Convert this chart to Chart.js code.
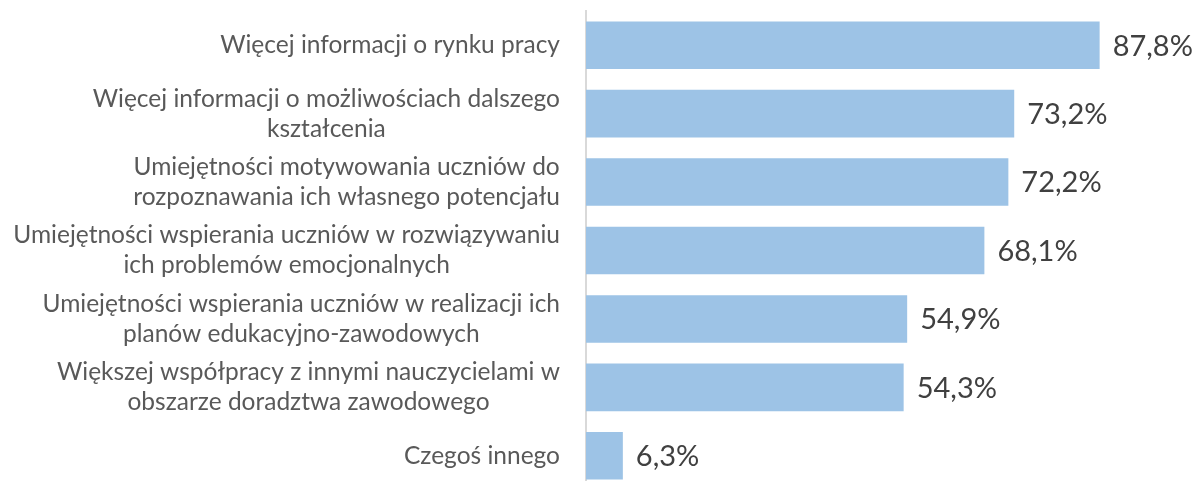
<!DOCTYPE html>
<html>
<head>
<meta charset="utf-8">
<script src="https://cdn.jsdelivr.net/npm/chart.js@4"></script>
<style>
  html, body { margin: 0; padding: 0; background: #fff; overflow: hidden; }
  .chart-container { position: relative; width: 1193px; height: 490px; }
</style>
</head>
<body>
<div class="chart-container">
  <canvas id="needsChart"></canvas>
</div>
<script>
const categories = [
  ["Więcej informacji o rynku pracy"],
  ["Więcej informacji o możliwościach dalszego", "kształcenia"],
  ["Umiejętności motywowania uczniów do", "rozpoznawania ich własnego potencjału"],
  ["Umiejętności wspierania uczniów w rozwiązywaniu", "ich problemów emocjonalnych"],
  ["Umiejętności wspierania uczniów w realizacji ich", "planów edukacyjno-zawodowych"],
  ["Większej współpracy z innymi nauczycielami w", "obszarze doradztwa zawodowego"],
  ["Czegoś innego"],
];
const shares = [87.8, 73.2, 72.2, 68.1, 54.9, 54.3, 6.3];
const axisRange = [0, 100];

const labelFont = "24.5px Lato";
const valueFont = "29px Lato";

// category labels: block right-aligned to the axis, lines centred inside the block
const categoryLabels = {
  id: "categoryLabels",
  afterDraw(chart) {
    const ctx = chart.ctx;
    const yScale = chart.scales.y;
    const right = chart.chartArea.left - 26;
    ctx.save();
    ctx.font = labelFont;
    ctx.fillStyle = "#595959";
    ctx.textAlign = "center";
    ctx.textBaseline = "middle";
    categories.forEach(function (lines, i) {
      const y = yScale.getPixelForTick(i);
      let maxW = 0;
      lines.forEach(function (l) {
        maxW = Math.max(maxW, ctx.measureText(l).width);
      });
      const cx = right - maxW / 2;
      lines.forEach(function (l, j) {
        ctx.fillText(l, cx, y + (j - (lines.length - 1) / 2) * 30);
      });
    });
    ctx.restore();
  },
};

// value labels after the bar ends
const valueLabels = {
  id: "valueLabels",
  afterDatasetsDraw(chart) {
    const ctx = chart.ctx;
    const meta = chart.getDatasetMeta(0);
    ctx.save();
    ctx.font = valueFont;
    ctx.fillStyle = "#404040";
    ctx.textAlign = "left";
    ctx.textBaseline = "middle";
    meta.data.forEach(function (bar, i) {
      const txt = shares[i].toFixed(1).replace(".", ",") + "%";
      ctx.fillText(txt, bar.x + 13, bar.y + 1);
    });
    ctx.restore();
  },
};

document.addEventListener("DOMContentLoaded", function () {
  const ctx = document.getElementById("needsChart").getContext("2d");
  new Chart(ctx, {
    type: "bar",
    data: {
      labels: categories,
      datasets: [
        {
          data: shares,
          backgroundColor: "#9DC3E6",
          borderWidth: 0,
          barPercentage: 0.695,
          categoryPercentage: 1,
        },
      ],
    },
    options: {
      indexAxis: "y",
      responsive: true,
      maintainAspectRatio: false,
      animation: false,
      layout: {
        padding: { left: 586, right: 22, top: 11, bottom: 0 },
      },
      plugins: {
        legend: { display: false },
        tooltip: { enabled: false },
      },
      scales: {
        x: {
          display: false,
          min: axisRange[0],
          max: axisRange[1],
        },
        y: {
          grid: { display: false },
          border: { display: true, color: "#d9d9d9", width: 2 },
          ticks: { display: false },
          afterFit: function (scale) {
            scale.width = 0;
          },
        },
      },
    },
    plugins: [categoryLabels, valueLabels],
  });
});
</script>
</body>
</html>
